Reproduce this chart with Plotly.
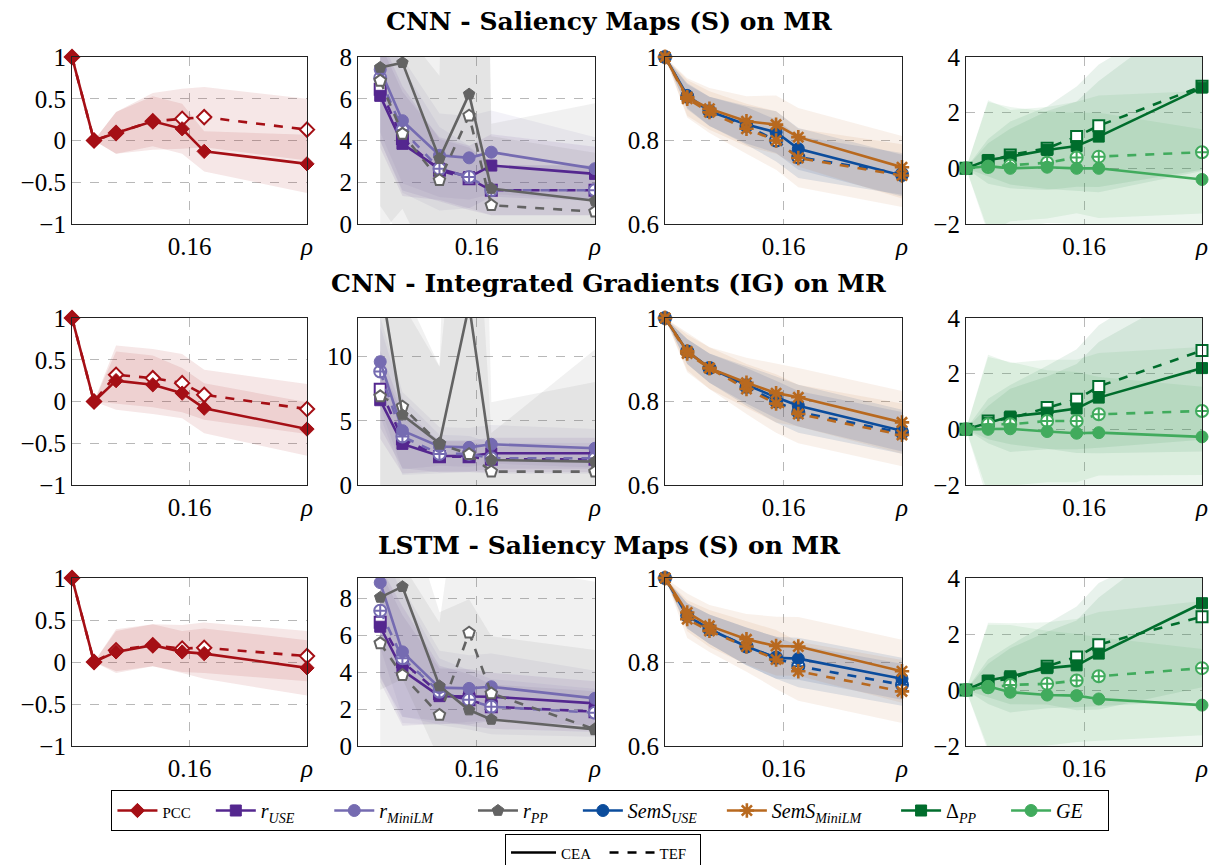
import plotly.graph_objects as go

# ---------------- data ----------------
X = [0, 0.03, 0.06, 0.11, 0.15, 0.18, 0.32]
XR = [0.03, 0.06, 0.11, 0.15, 0.18, 0.32]

ROW_TITLES = ["CNN - Saliency Maps (S) on MR",
              "CNN - Integrated Gradients (IG) on MR",
              "LSTM - Saliency Maps (S) on MR"]

# Row 1: CNN - Saliency Maps
R1_PCC_CEA = [1.0, 0.0, 0.09, 0.23, 0.14, -0.13, -0.28]
R1_PCC_TEF = [1.0, 0.0, 0.09, 0.23, 0.26, 0.28, 0.13]
R1_PCC_CEA_SD = [0, 0, 0.25, 0.30, 0.30, 0.24, 0.35]
R1_PCC_TEF_SD = [0, 0, 0.25, 0.34, 0.36, 0.36, 0.37]
R1_RUSE_CEA = [6.14, 3.84, 2.65, 2.25, 2.80, 2.40]
R1_RUSE_TEF = [6.46, 4.10, 2.57, 2.17, 1.62, 1.62]
R1_RMINI_CEA = [7.40, 4.95, 3.29, 3.17, 3.44, 2.65]
R1_RMINI_TEF = [7.00, 4.50, 2.65, 2.25, 1.62, 1.62]
R1_RPP_CEA = [7.50, 7.73, 3.13, 6.22, 1.70, 1.11]
R1_RPP_TEF = [6.86, 4.32, 2.10, 5.19, 0.90, 0.59]
R1_RUSE_CEA_SD = [2.5, 2.5, 1.5, 1.5, 1.5, 1.3]
R1_RUSE_TEF_SD = [2.5, 2.5, 1.5, 1.5, 1.2, 1.2]
R1_RMINI_CEA_SD = [3.0, 3.0, 2.0, 2.0, 2.0, 1.5]
R1_RMINI_TEF_SD = [3.0, 3.0, 2.0, 1.5, 1.2, 1.2]
R1_RPP_CEA_SD = [8.0, 7.0, 6.0, 60.0, 2.5, 2.3]
R1_RPP_TEF_SD = [6.0, 5.0, 5.0, 60.0, 3.9, 5.2]
R1_SUSE_CEA = [1.0, 0.908, 0.870, 0.838, 0.820, 0.780, 0.716]
R1_SUSE_TEF = [1.0, 0.905, 0.870, 0.835, 0.800, 0.760, 0.720]
R1_SMINI_CEA = [1.0, 0.904, 0.876, 0.846, 0.838, 0.808, 0.736]
R1_SMINI_TEF = [1.0, 0.900, 0.868, 0.828, 0.800, 0.758, 0.716]
R1_SUSE_SD = [0, 0.03, 0.035, 0.045, 0.05, 0.05, 0.05]
R1_SMINI_SD = [0, 0.045, 0.05, 0.06, 0.07, 0.07, 0.075]
R1_DPP_CEA = [0, 0.30, 0.42, 0.66, 0.80, 1.14, 2.90]
R1_DPP_TEF = [0, 0.25, 0.48, 0.72, 1.14, 1.53, 2.95]
R1_GE_CEA = [0, 0.08, 0.0, 0.04, 0.0, 0.0, -0.40]
R1_GE_TEF = [0, 0.05, 0.10, 0.20, 0.39, 0.42, 0.58]
R1_DPP_CEA_SD = [0, 0.6, 1.0, 1.4, 1.6, 2.0, 3.0]
R1_DPP_TEF_SD = [0, 0.8, 1.2, 1.5, 1.8, 2.2, 3.0]
R1_GE_CEA_SD = [0, 2.3, 2.2, 2.0, 2.0, 2.0, 1.8]
R1_GE_TEF_SD = [0, 2.4, 2.0, 2.0, 2.0, 2.2, 2.2]

# Row 2: CNN - Integrated Gradients
R2_PCC_CEA = [1.0, 0.0, 0.25, 0.20, 0.10, -0.08, -0.33]
R2_PCC_TEF = [1.0, 0.0, 0.32, 0.28, 0.22, 0.08, -0.09]
R2_PCC_CEA_SD = [0, 0, 0.35, 0.35, 0.30, 0.30, 0.32]
R2_PCC_TEF_SD = [0, 0, 0.35, 0.35, 0.35, 0.30, 0.30]
R2_RUSE_CEA = [6.60, 3.20, 2.26, 2.26, 2.47, 2.47]
R2_RUSE_TEF = [7.45, 3.60, 2.20, 2.20, 2.00, 2.00]
R2_RMINI_CEA = [9.60, 4.23, 3.00, 2.93, 3.17, 2.86]
R2_RMINI_TEF = [8.83, 3.77, 2.42, 2.42, 2.08, 2.08]
R2_RPP_CEA = [16.0, 5.45, 3.25, 14.0, 1.95, 1.82]
R2_RPP_TEF = [6.90, 6.10, 3.20, 2.40, 1.04, 1.04]
R2_RUSE_CEA_SD = [3.0, 2.3, 1.2, 1.2, 1.2, 1.2]
R2_RUSE_TEF_SD = [3.0, 2.3, 1.2, 1.2, 1.0, 1.0]
R2_RMINI_CEA_SD = [3.5, 3.0, 1.5, 1.5, 1.5, 1.5]
R2_RMINI_TEF_SD = [3.5, 3.0, 1.5, 1.4, 1.2, 1.2]
R2_RPP_CEA_SD = [16.0, 10.0, 6.0, 60.0, 4.5, 6.2]
R2_RPP_TEF_SD = [10.0, 8.0, 6.0, 30.0, 3.0, 9.5]
R2_SUSE_CEA = [1.0, 0.920, 0.880, 0.840, 0.810, 0.790, 0.730]
R2_SUSE_TEF = [1.0, 0.920, 0.880, 0.835, 0.800, 0.775, 0.725]
R2_SMINI_CEA = [1.0, 0.920, 0.880, 0.845, 0.820, 0.810, 0.750]
R2_SMINI_TEF = [1.0, 0.915, 0.880, 0.830, 0.795, 0.770, 0.720]
R2_SUSE_SD = [0, 0.03, 0.035, 0.045, 0.05, 0.05, 0.05]
R2_SMINI_SD = [0, 0.045, 0.05, 0.06, 0.07, 0.07, 0.075]
R2_DPP_CEA = [0, 0.24, 0.46, 0.60, 0.75, 1.14, 2.20]
R2_DPP_TEF = [0, 0.30, 0.39, 0.78, 1.08, 1.54, 2.83]
R2_GE_CEA = [0, 0.0, 0.02, -0.08, -0.14, -0.12, -0.27]
R2_GE_TEF = [0, 0.18, 0.18, 0.30, 0.30, 0.54, 0.66]
R2_DPP_CEA_SD = [0, 0.6, 1.0, 1.3, 1.6, 2.0, 3.0]
R2_DPP_TEF_SD = [0, 0.8, 1.2, 1.5, 1.8, 2.2, 3.2]
R2_GE_CEA_SD = [0, 2.6, 2.4, 2.2, 2.2, 2.0, 1.8]
R2_GE_TEF_SD = [0, 2.5, 2.2, 2.2, 2.2, 2.2, 2.3]

# Row 3: LSTM - Saliency Maps
R3_PCC_CEA = [1.0, 0.0, 0.12, 0.20, 0.12, 0.10, -0.07]
R3_PCC_TEF = [1.0, 0.0, 0.14, 0.20, 0.16, 0.17, 0.07]
R3_PCC_CEA_SD = [0, 0, 0.25, 0.25, 0.25, 0.30, 0.33]
R3_PCC_TEF_SD = [0, 0, 0.25, 0.25, 0.28, 0.30, 0.30]
R3_RUSE_CEA = [6.46, 4.10, 2.70, 2.67, 2.67, 2.31]
R3_RUSE_TEF = [6.70, 4.57, 2.85, 2.50, 2.13, 1.86]
R3_RMINI_CEA = [8.85, 5.10, 3.16, 3.12, 3.21, 2.58]
R3_RMINI_TEF = [7.33, 4.75, 2.94, 2.50, 2.13, 1.80]
R3_RPP_CEA = [8.05, 8.63, 3.25, 1.95, 1.44, 0.90]
R3_RPP_TEF = [5.56, 3.84, 1.68, 6.14, 2.85, 0.90]
R3_RUSE_CEA_SD = [3.0, 3.0, 1.5, 1.5, 1.3, 1.2]
R3_RUSE_TEF_SD = [3.0, 3.0, 1.5, 1.4, 1.2, 1.1]
R3_RMINI_CEA_SD = [3.5, 3.5, 2.0, 1.8, 1.8, 1.5]
R3_RMINI_TEF_SD = [3.5, 3.5, 1.8, 1.6, 1.5, 1.3]
R3_RPP_CEA_SD = [5.0, 5.0, 4.0, 6.0, 4.5, 4.3]
R3_RPP_TEF_SD = [6.0, 6.0, 5.0, 12.0, 7.0, 8.0]
R3_SUSE_CEA = [1.0, 0.910, 0.878, 0.837, 0.810, 0.808, 0.760]
R3_SUSE_TEF = [1.0, 0.910, 0.878, 0.837, 0.810, 0.790, 0.746]
R3_SMINI_CEA = [1.0, 0.918, 0.886, 0.854, 0.838, 0.837, 0.778]
R3_SMINI_TEF = [1.0, 0.902, 0.874, 0.837, 0.806, 0.778, 0.730]
R3_SUSE_SD = [0, 0.03, 0.035, 0.045, 0.05, 0.05, 0.05]
R3_SMINI_SD = [0, 0.045, 0.05, 0.06, 0.07, 0.07, 0.075]
R3_DPP_CEA = [0, 0.34, 0.49, 0.78, 0.88, 1.30, 3.10]
R3_DPP_TEF = [0, 0.30, 0.40, 0.85, 1.18, 1.62, 2.62]
R3_GE_CEA = [0, 0.13, -0.08, -0.18, -0.20, -0.32, -0.54]
R3_GE_TEF = [0, 0.10, 0.18, 0.22, 0.34, 0.49, 0.78]
R3_DPP_CEA_SD = [0, 0.6, 1.0, 1.3, 1.6, 2.0, 3.0]
R3_DPP_TEF_SD = [0, 0.8, 1.2, 1.5, 1.8, 2.2, 3.0]
R3_GE_CEA_SD = [0, 2.2, 2.4, 2.3, 2.2, 2.2, 2.0]
R3_GE_TEF_SD = [0, 2.3, 2.2, 2.2, 2.2, 2.3, 2.4]

Y_RANGES_COL2 = [(0, 8), (0, 13), (0, 9.1)]
Y_TICKS_COL2 = [[0, 2, 4, 6, 8], [0, 5, 10], [0, 2, 4, 6, 8]]

# ---------------- styles ----------------
C_PCC = "#a50f15"
C_RUSE = "#54278f"
C_RMINI = "#756bb1"
C_RPP = "#636363"
C_SUSE = "#0b4c9c"
C_SMINI = "#b8691f"
C_DPP = "#006d2c"
C_GE = "#41ab5d"


def rgba(h, a):
    h = h.lstrip("#")
    return "rgba(%d,%d,%d,%.3f)" % (int(h[0:2], 16), int(h[2:4], 16), int(h[4:6], 16), a)


FONT = "Liberation Serif"
TFONT = "DejaVu Serif"
NB = "\u00a0"

SC = "<span style='font-size:15px'>%s</span>"
# series metadata: key -> (label, color, symbol CEA, symbol TEF, size, band alpha, legend pad)
META = {
    "PCC": (SC % "PCC", C_PCC, "diamond", "diamond", 11, 0.10, 3),
    "RUSE": ("<i>r</i><sub><i>USE</i></sub>", C_RUSE, "square", "square", 11, 0.09, 6),
    "RMINI": ("<i>r</i><sub><i>MiniLM</i></sub>", C_RMINI, "circle", "circle-cross", 12, 0.09, 7),
    "RPP": ("<i>r</i><sub><i>PP</i></sub>", C_RPP, "pentagon", "pentagon", 12, 0.09, 5),
    "SUSE": ("<i>SemS</i><sub><i>USE</i></sub>", C_SUSE, "circle", "circle-cross", 12, 0.12, 4),
    "SMINI": ("<i>SemS</i><sub><i>MiniLM</i></sub>", C_SMINI, "asterisk-open", "asterisk-open", 12, 0.09, 6),
    "DPP": ("Δ<sub><i>PP</i></sub>", C_DPP, "square", "square", 11, 0.09, 5),
    "GE": ("<i>GE</i>", C_GE, "circle", "circle-cross", 12, 0.10, 4),
}
LEGEND_ORDER = ["PCC", "RUSE", "RMINI", "RPP", "SUSE", "SMINI", "DPP", "GE"]

ROWS = [
    {
        "PCC": (X, R1_PCC_CEA, R1_PCC_TEF, R1_PCC_CEA_SD, R1_PCC_TEF_SD),
        "RUSE": (XR, R1_RUSE_CEA, R1_RUSE_TEF, R1_RUSE_CEA_SD, R1_RUSE_TEF_SD),
        "RMINI": (XR, R1_RMINI_CEA, R1_RMINI_TEF, R1_RMINI_CEA_SD, R1_RMINI_TEF_SD),
        "RPP": (XR, R1_RPP_CEA, R1_RPP_TEF, R1_RPP_CEA_SD, R1_RPP_TEF_SD),
        "SUSE": (X, R1_SUSE_CEA, R1_SUSE_TEF, R1_SUSE_SD, R1_SUSE_SD),
        "SMINI": (X, R1_SMINI_CEA, R1_SMINI_TEF, R1_SMINI_SD, R1_SMINI_SD),
        "DPP": (X, R1_DPP_CEA, R1_DPP_TEF, R1_DPP_CEA_SD, R1_DPP_TEF_SD),
        "GE": (X, R1_GE_CEA, R1_GE_TEF, R1_GE_CEA_SD, R1_GE_TEF_SD),
    },
    {
        "PCC": (X, R2_PCC_CEA, R2_PCC_TEF, R2_PCC_CEA_SD, R2_PCC_TEF_SD),
        "RUSE": (XR, R2_RUSE_CEA, R2_RUSE_TEF, R2_RUSE_CEA_SD, R2_RUSE_TEF_SD),
        "RMINI": (XR, R2_RMINI_CEA, R2_RMINI_TEF, R2_RMINI_CEA_SD, R2_RMINI_TEF_SD),
        "RPP": (XR, R2_RPP_CEA, R2_RPP_TEF, R2_RPP_CEA_SD, R2_RPP_TEF_SD),
        "SUSE": (X, R2_SUSE_CEA, R2_SUSE_TEF, R2_SUSE_SD, R2_SUSE_SD),
        "SMINI": (X, R2_SMINI_CEA, R2_SMINI_TEF, R2_SMINI_SD, R2_SMINI_SD),
        "DPP": (X, R2_DPP_CEA, R2_DPP_TEF, R2_DPP_CEA_SD, R2_DPP_TEF_SD),
        "GE": (X, R2_GE_CEA, R2_GE_TEF, R2_GE_CEA_SD, R2_GE_TEF_SD),
    },
    {
        "PCC": (X, R3_PCC_CEA, R3_PCC_TEF, R3_PCC_CEA_SD, R3_PCC_TEF_SD),
        "RUSE": (XR, R3_RUSE_CEA, R3_RUSE_TEF, R3_RUSE_CEA_SD, R3_RUSE_TEF_SD),
        "RMINI": (XR, R3_RMINI_CEA, R3_RMINI_TEF, R3_RMINI_CEA_SD, R3_RMINI_TEF_SD),
        "RPP": (XR, R3_RPP_CEA, R3_RPP_TEF, R3_RPP_CEA_SD, R3_RPP_TEF_SD),
        "SUSE": (X, R3_SUSE_CEA, R3_SUSE_TEF, R3_SUSE_SD, R3_SUSE_SD),
        "SMINI": (X, R3_SMINI_CEA, R3_SMINI_TEF, R3_SMINI_SD, R3_SMINI_SD),
        "DPP": (X, R3_DPP_CEA, R3_DPP_TEF, R3_DPP_CEA_SD, R3_DPP_TEF_SD),
        "GE": (X, R3_GE_CEA, R3_GE_TEF, R3_GE_CEA_SD, R3_GE_TEF_SD),
    },
]
COL_SERIES = [["PCC"], ["RUSE", "RMINI", "RPP"], ["SUSE", "SMINI"], ["DPP", "GE"]]

W, H = 1217, 865
COL_PX = [(72, 307), (358, 595), (665, 902), (966, 1202)]
ROW_PX = [(57, 224), (318, 485), (578, 746)]
TITLE_PX = [22, 283, 545]

fig = go.Figure()


def axnames(r, c):
    i = r * 4 + c + 1
    return ("x" if i == 1 else "x%d" % i), ("y" if i == 1 else "y%d" % i)


def marker_style(key, tef):
    label, col, s_cea, s_tef, size, _, _ = META[key]
    if key == "SMINI":
        return dict(symbol="asterisk-open", size=size, color=col, line=dict(color=col, width=2.6))
    if tef:
        return dict(symbol=s_tef, size=size, color="white", line=dict(color=col, width=2))
    return dict(symbol=s_cea, size=size, color=col, line=dict(color=col, width=1))


for r, rowdata in enumerate(ROWS):
    for c, keys in enumerate(COL_SERIES):
        xa, ya = axnames(r, c)
        # bands first
        for key in keys:
            xs, cea, tef, sd_c, sd_t = rowdata[key]
            col = META[key][1]
            alpha = META[key][5]
            for vals, sd in ((tef, sd_t), (cea, sd_c)):
                up = [v + s for v, s in zip(vals, sd)]
                lo = [v - s for v, s in zip(vals, sd)]
                fig.add_trace(go.Scatter(
                    x=list(xs) + list(xs)[::-1], y=up + lo[::-1],
                    fill="toself", fillcolor=rgba(col, alpha), mode="lines",
                    line=dict(width=0), hoverinfo="skip", showlegend=False,
                    xaxis=xa, yaxis=ya))
        # lines
        for key in keys:
            xs, cea, tef, sd_c, sd_t = rowdata[key]
            col = META[key][1]
            clip = (c == 1)
            fig.add_trace(go.Scatter(
                x=xs, y=tef, mode="lines+markers",
                line=dict(color=col, width=2.6, dash="dash"),
                marker=marker_style(key, True), cliponaxis=clip,
                showlegend=False, xaxis=xa, yaxis=ya))
            fig.add_trace(go.Scatter(
                x=xs, y=cea, mode="lines+markers",
                line=dict(color=col, width=2.6),
                marker=marker_style(key, False), cliponaxis=clip,
                showlegend=False, xaxis=xa, yaxis=ya))

# legend entries
for key in LEGEND_ORDER:
    label, col, pad = META[key][0], META[key][1], META[key][6]
    fig.add_trace(go.Scatter(
        x=[None], y=[None], mode="lines+markers", name=label + NB * pad,
        line=dict(color=col, width=2.6), marker=marker_style(key, False),
        legend="legend", showlegend=True))
fig.add_trace(go.Scatter(x=[None], y=[None], mode="lines", name=SC % "CEA" + NB * 2,
                         line=dict(color="black", width=2.6), legend="legend2", showlegend=True))
fig.add_trace(go.Scatter(x=[None], y=[None], mode="lines", name=SC % "TEF" + NB * 2,
                         line=dict(color="black", width=2.6, dash="dash"), legend="legend2", showlegend=True))

layout = dict(
    width=W, height=H, margin=dict(l=0, r=0, t=0, b=0, autoexpand=False),
    paper_bgcolor="white", plot_bgcolor="white",
    font=dict(family=FONT, size=25, color="black"),
    showlegend=True,
    legend=dict(orientation="h", x=0.5016, xanchor="center", y=1 - 790 / H, yanchor="top",
                bordercolor="black", borderwidth=1, bgcolor="white",
                font=dict(family=FONT, size=20), itemwidth=40),
    legend2=dict(orientation="h", x=0.4955, xanchor="center", y=1 - 834 / H, yanchor="top",
                 bordercolor="black", borderwidth=1, bgcolor="white",
                 font=dict(family=FONT, size=17), itemwidth=45),
)

for r in range(3):
    for c in range(4):
        i = r * 4 + c + 1
        xa, ya = axnames(r, c)
        xk = "xaxis" if i == 1 else "xaxis%d" % i
        yk = "yaxis" if i == 1 else "yaxis%d" % i
        x0, x1 = COL_PX[c]
        y0, y1 = ROW_PX[r]
        if c == 0:
            yr, yt = (-1, 1), [-1, -0.5, 0, 0.5, 1]
            ytt = ["−1", "−0.5", "0", "0.5", "1"]
        elif c == 1:
            yr, yt = Y_RANGES_COL2[r], Y_TICKS_COL2[r]
            ytt = [str(v) for v in yt]
        elif c == 2:
            yr, yt = (0.6, 1.0), [0.6, 0.8, 1.0]
            ytt = ["0.6", "0.8", "1"]
        else:
            yr, yt = (-2, 4), [-2, 0, 2, 4]
            ytt = ["−2", "0", "2", "4"]
        common = dict(showline=True, linecolor="#222222", linewidth=1.2, mirror=True,
                      showgrid=True, gridcolor="#b8b8b8", griddash="dash", gridwidth=1,
                      zeroline=False, ticks="", fixedrange=True,
                      tickfont=dict(family=FONT, size=25))
        layout[xk] = dict(domain=[x0 / W, x1 / W], anchor=ya, range=[0, 0.32],
                          tickmode="array", tickvals=[0.16, 0.32],
                          ticktext=["0.16", "<i>ρ</i>"], **common)
        layout[yk] = dict(domain=[1 - y1 / H, 1 - y0 / H], anchor=xa, range=list(yr),
                          tickmode="array", tickvals=yt, ticktext=ytt, **common)

annotations = []
for r, t in enumerate(ROW_TITLES):
    annotations.append(dict(text="<b>%s</b>" % t, x=0.5, y=1 - TITLE_PX[r] / H, xref="paper", yref="paper",
                            xanchor="center", yanchor="middle", showarrow=False,
                            font=dict(family=TFONT, size=25, color="black")))
layout["annotations"] = annotations
fig.update_layout(**layout)

fig.write_html("out.html")
